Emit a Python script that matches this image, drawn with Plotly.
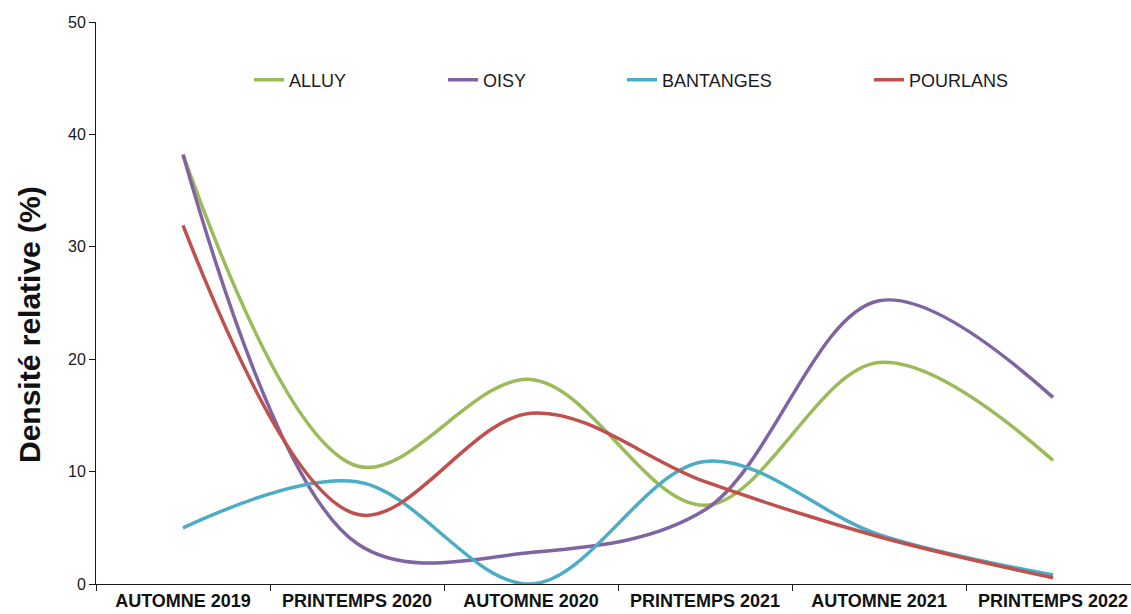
import plotly.graph_objects as go

# Relative density (%) per site and sampling campaign
campaigns = ["AUTOMNE 2019", "PRINTEMPS 2020", "AUTOMNE 2020",
             "PRINTEMPS 2021", "AUTOMNE 2021", "PRINTEMPS 2022"]
alluy = [38.2, 10.5, 18.2, 7.0, 19.7, 11.0]
oisy = [38.2, 3.6, 2.8, 6.6, 25.2, 16.6]
bantanges = [5.0, 9.1, 0.0, 10.9, 4.4, 0.8]
pourlans = [31.9, 6.2, 15.2, 9.1, 4.2, 0.55]

series = [
    ("ALLUY", alluy, "#9BBB59", "legend", 249),
    ("OISY", oisy, "#8064A2", "legend2", 443),
    ("BANTANGES", bantanges, "#4BACC6", "legend3", 622),
    ("POURLANS", pourlans, "#C0504D", "legend4", 869),
]

W, H = 1131, 614
ML, MR, MT, MB = 96, 0, 22, 30
PW, PH = W - ML - MR, H - MT - MB
font_family = "Liberation Sans, Arial, sans-serif"

fig = go.Figure()
legends = {}
for name, vals, color, leg, xpix in series:
    fig.add_trace(go.Scatter(
        x=campaigns, y=vals, name=name, mode="lines",
        line=dict(color=color, width=3.5, shape="spline", smoothing=1.0),
        legend=leg,
    ))
    legends[leg] = dict(
        orientation="h", xref="paper", yref="paper",
        x=(xpix - ML) / PW, y=(H - MB - 80) / PH,
        xanchor="left", yanchor="middle",
        bgcolor="rgba(0,0,0,0)", borderwidth=0,
        font=dict(family=font_family, size=18, color="#1a1a1a"),
        itemwidth=30,
    )

fig.update_layout(
    width=W, height=H,
    margin=dict(l=ML, r=MR, t=MT, b=MB, autoexpand=False),
    plot_bgcolor="white", paper_bgcolor="white",
    showlegend=True,
    font=dict(family=font_family, color="#1a1a1a"),
    xaxis=dict(
        type="category", range=[-0.5, 5.448],
        showgrid=False, zeroline=False,
        showline=True, linecolor="#1a1a1a", linewidth=1,
        ticks="outside", ticklen=6, tickcolor="#1a1a1a", tickson="boundaries",
        tickfont=dict(family=font_family, size=18, color="#111111", weight="bold"),
    ),
    yaxis=dict(
        range=[0, 50], dtick=10,
        showgrid=False, zeroline=False,
        showline=True, linecolor="#1a1a1a", linewidth=1,
        ticks="outside", ticklen=6, tickcolor="#1a1a1a",
        tickfont=dict(family=font_family, size=16, color="#1a1a1a"),
    ),
    annotations=[dict(
        text="<b>Densité relative (%)</b>", textangle=-90,
        xref="paper", yref="paper", x=(29 - ML) / PW, y=(H - MB - 325) / PH,
        xanchor="center", yanchor="middle", showarrow=False,
        font=dict(family=font_family, size=30, color="#111111"),
    )],
    **legends,
)

fig.write_html("out.html")
